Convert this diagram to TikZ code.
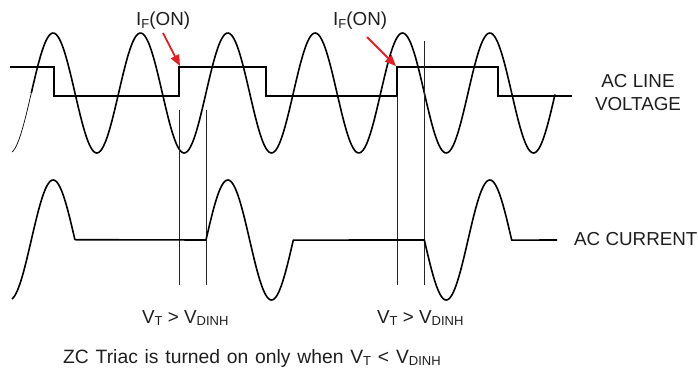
\documentclass[tikz,border=0pt]{standalone}
\usepackage{fontspec}
\setmainfont{Liberation Sans}
\usetikzlibrary{arrows.meta}
\definecolor{arrred}{RGB}{228,30,36}
\definecolor{txt}{RGB}{30,30,30}
\newcommand{\Sb}[1]{\raisebox{-2.6pt}{\fontsize{13}{13}\selectfont #1}}
\newcommand{\zcfont}{\fontsize{19.3}{22}\selectfont\spaceskip=6.8pt\relax}
\begin{document}
\begin{tikzpicture}[x=1pt,y=-1pt,
  wave/.style={line width=1.6pt, line join=miter},
  vline/.style={line width=0.9pt, black!85},
  lbl/.style={inner sep=0pt, text=txt, font=\fontsize{18.8}{22}\selectfont, anchor=base west},
  redarr/.style={-{Triangle[length=11pt,width=9pt]}, line width=1.8pt, draw=arrred, fill=arrred}]
\useasboundingbox (0,0) rectangle (698,371);
% AC line voltage
\draw[line width=0.7pt] plot[domain=12:32, samples=25, smooth] (\x,{93-60*sin(4.12183*(\x-31.3))});
\draw[wave, line join=round] plot[domain=31.3:555, samples=320, smooth] (\x,{93-60*sin(4.12183*(\x-31.3))});
% square wave (LED drive)
\draw[wave] (10,67) -| (54,96) -| (179,67) -| (266,96) -| (397,67) -| (498,96) -- (572,96);
% vertical markers
\coordinate (a1) at (179,110); \coordinate (a2) at (179,285);
\coordinate (b1) at (206,110); \coordinate (b2) at (206,285);
\coordinate (c1) at (397,96);  \coordinate (c2) at (397,285);
\coordinate (d1) at (424.3,41); \coordinate (d2) at (424.3,285);
\draw[vline] (a1) -- (a2);
\draw[vline] (b1) -- (b2);
\draw[vline] (c1) -- (c2);
\draw[vline] (d1) -- (d2);
% AC current
\draw[wave, line join=round] plot[domain=12:74.9, samples=60, smooth] (\x,{240-60*sin(4.12183*(\x-31.3))})
  -- (206,240) -- plot[domain=206:293.3, samples=80, smooth] (\x,{240-60*sin(4.12183*(\x-31.3))})
  -- (424.3,240) -- plot[domain=424.3:511.7, samples=80, smooth] (\x,{240-60*sin(4.12183*(\x-31.3))})
  -- (557,240);
% red arrows
\coordinate (t1) at (163,33); \coordinate (h1) at (180,66);
\coordinate (t2) at (367,37); \coordinate (h2) at (396,66);
\draw[redarr] (t1) -- (h1);
\draw[redarr] (t2) -- (h2);
% labels
\node[lbl] (if1) at (136,26) {I\Sb{F}(ON)};
\node[lbl] (if2) at (333,26) {I\Sb{F}(ON)};
\node[lbl, anchor=base] (acl1) at (638,88) {AC LINE};
\node[lbl, anchor=base] (acl2) at (638,111) {VOLTAGE};
\node[lbl] (acc) at (574,246) {AC CURRENT};
\node[lbl] (vt1) at (142,323) {V\Sb{T} > V\Sb{DINH}};
\node[lbl] (vt2) at (377,323) {V\Sb{T} > V\Sb{DINH}};
\node[lbl, font=\zcfont] (zc) at (63,363) {ZC Triac is turned on only when V\Sb{T} < V\Sb{DINH}};
\end{tikzpicture}
\end{document}
